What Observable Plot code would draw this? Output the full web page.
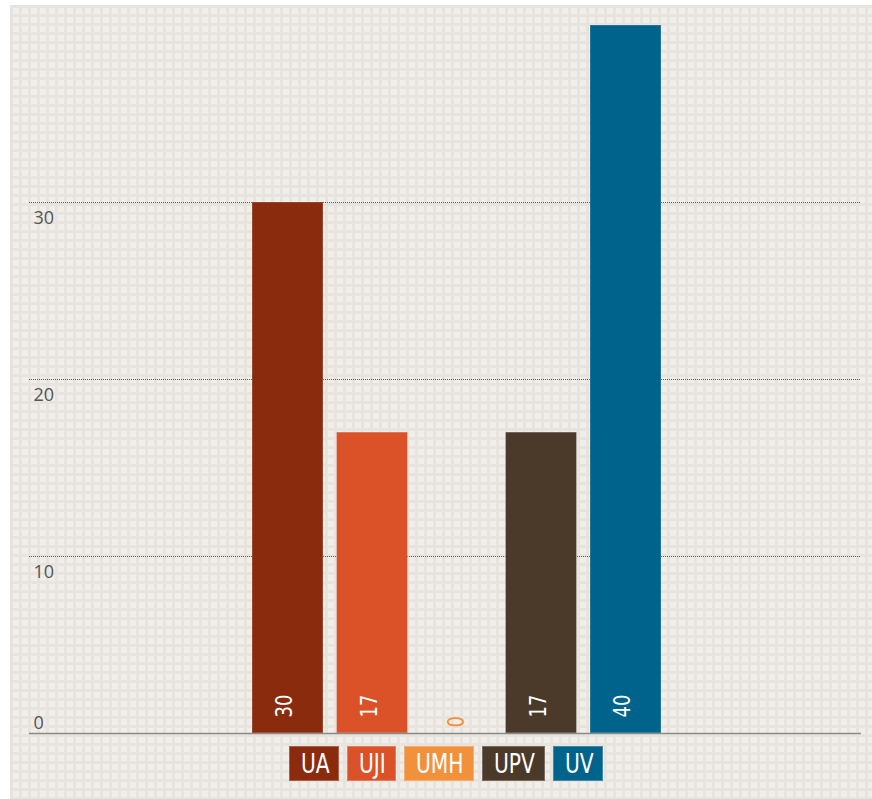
<!DOCTYPE html>
<html>
<head>
<meta charset="utf-8">
<script src="https://cdn.jsdelivr.net/npm/d3@7"></script>
<script src="https://cdn.jsdelivr.net/npm/@observablehq/plot@0.6"></script>
<style>
  html, body { margin: 0; padding: 0; background: #ffffff; }
  #chart {
    position: absolute; left: 10px; top: 5px; width: 862px; height: 794px;
    background-color: #f1eee9;
    background-image:
      linear-gradient(#e7e4df 3px, transparent 3px),
      linear-gradient(90deg, #e7e4df 3px, transparent 3px);
    background-size: 9px 9px;
  }
  #chart svg { display: block; background: transparent; }
  #legend {
    display: flex; justify-content: center; gap: 8px;
    margin-top: 1px; padding-left: 10px;
  }
  #legend .item {
    box-sizing: border-box; position: relative; overflow: hidden;
    height: 35px; line-height: 34px;
    color: #ffffff; font-size: 26px;
    font-family: 'DejaVu Sans', sans-serif;
    border: 1px solid rgba(255,255,255,0.25);
  }
  #legend .item span {
    display: inline-block; white-space: nowrap;
    transform-origin: 0 50%;
    position: absolute; left: 11px; top: 0;
  }
</style>
</head>
<body>
<div id="chart"></div>
<script>
const universities = ["UA", "UJI", "UMH", "UPV", "UV"];
const values = [30, 17, 0, 17, 40];
const colors = ["#8a2b0e", "#db5229", "#f2913b", "#4b3a2a", "#00638b"];
const yTicks = [10, 20, 30];

const data = universities.map((name, i) => ({name, value: values[i]}));
const narrow = "'DejaVu Sans', sans-serif";
const squeeze = 0.78;

const chart = Plot.plot({
  width: 862,
  height: 740,
  marginLeft: 19,
  marginRight: 11,
  marginTop: 20,
  marginBottom: 12,
  style: {background: "transparent", overflow: "visible"},
  x: {domain: universities, range: [235.25, 657.75], paddingInner: 0.16, paddingOuter: 0.08, round: false, axis: null},
  y: {domain: [0, 40], axis: null},
  color: {domain: universities, range: colors},
  marks: [
    Plot.gridY(yTicks, {stroke: "#5a5a5a", strokeOpacity: 1, strokeDasharray: "1,1"}),
    Plot.axisY(yTicks, {tickSize: 0, tickPadding: -4, textAnchor: "start", lineAnchor: "top", dy: 8.5,
      fill: "#555", fontSize: 18, fontFamily: "'Open Sans', sans-serif", label: null}),
    Plot.axisY([0], {tickSize: 0, tickPadding: -4, textAnchor: "start", lineAnchor: "bottom", dy: -5,
      fill: "#555", fontSize: 18, fontFamily: "'Open Sans', sans-serif", label: null}),
    Plot.barY(data, {x: "name", y: "value", fill: "name", stroke: "#ffffff", strokeOpacity: 0.25, strokeWidth: 1}),
    Plot.ruleY([0], {stroke: "#8a8a86", strokeWidth: 1.6}),
    Plot.text(data.filter(d => d.value > 0), {x: "name", y: 0, text: d => String(d.value), rotate: -90,
      textAnchor: "start", fill: "#ffffff", fontSize: 23, fontFamily: narrow, dy: -16, dx: -3}),
    Plot.text(data.filter(d => d.value === 0), {x: "name", y: 0, text: d => String(d.value), rotate: -90,
      textAnchor: "start", fill: "name", fontSize: 23, fontFamily: narrow, dy: -6})
  ]
});

// condense the rotated value labels along their reading direction
chart.querySelectorAll('g[aria-label="text"] text').forEach(t => {
  const tr = t.getAttribute("transform") || "";
  t.setAttribute("transform", tr + ` scale(${squeeze},1)`);
});

const container = document.getElementById("chart");
container.appendChild(chart);

const legend = document.createElement("div");
legend.id = "legend";
container.appendChild(legend);
universities.forEach((name, i) => {
  const item = document.createElement("div");
  item.className = "item";
  item.style.background = colors[i];
  const span = document.createElement("span");
  span.textContent = name;
  item.appendChild(span);
  legend.appendChild(item);
  const w = span.getBoundingClientRect().width;
  span.style.transform = `scaleX(${squeeze})`;
  item.style.width = (w * squeeze + 22) + "px";
});
</script>
</body>
</html>
